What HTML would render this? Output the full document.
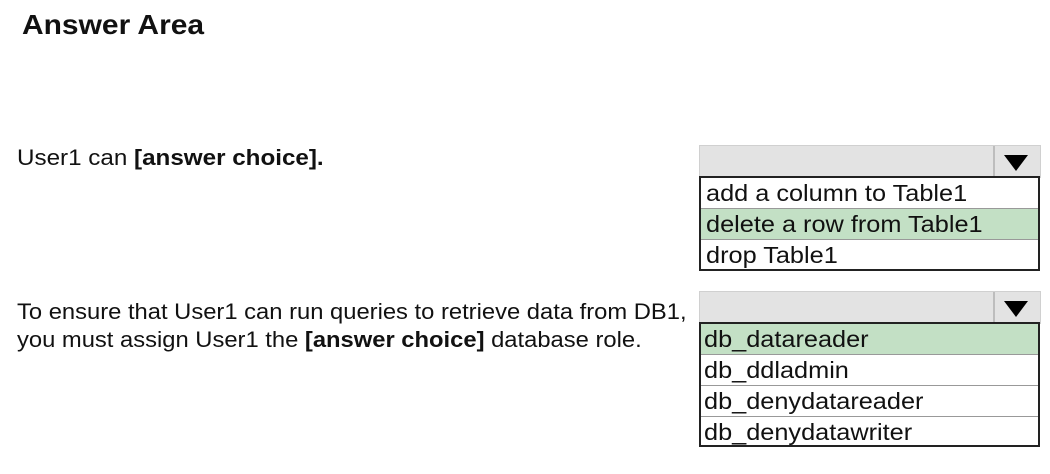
<!DOCTYPE html>
<html><head><style>
body{margin:0;width:1050px;height:474px;background:#fff;font-family:"Liberation Sans",Arial,sans-serif;position:relative;overflow:hidden;color:#111}
.a{position:absolute;white-space:nowrap;transform-origin:left top}
.bar{position:absolute;background:#e3e3e3;border:1px solid #d0d0d0;box-sizing:border-box}
.dv{position:absolute;top:0;bottom:0;width:2px;background:#bdbdbd}
.tri{position:absolute;width:0;height:0;border-left:12px solid transparent;border-right:12px solid transparent;border-top:16px solid #000}
.list{position:absolute;border:2px solid #222;box-sizing:border-box;background:#fff}
.r{height:31px;line-height:31px;font-size:23px;padding-left:5px;border-bottom:1px solid #999;box-sizing:border-box;white-space:nowrap}
.r span{display:inline-block;transform:scaleX(1.1);transform-origin:left center}
.r:last-child{border-bottom:none}
.g{background:#c3e0c5}
</style></head><body>
<div class="a" style="left:22px;top:9px;font-size:28px;font-weight:bold;transform:scaleX(1.07)">Answer Area</div>
<div class="a" style="left:17px;top:145px;font-size:22px;transform:scaleX(1.1)">User1 can <b>[answer choice].</b></div>
<div class="a" style="left:17px;top:298px;font-size:22px;line-height:28px;transform:scaleX(1.08)">To ensure that User1 can run queries to retrieve data from DB1,<br>you must assign User1 the <b>[answer choice]</b> database role.</div>

<div class="bar" style="left:699px;top:145px;width:342px;height:33px"><div class="dv" style="left:293px"></div><div class="tri" style="left:304px;top:9px"></div></div>
<div class="list" style="left:699px;top:176px;width:341px;height:95px">
<div class="r"><span>add a column to Table1</span></div><div class="r g"><span>delete a row from Table1</span></div><div class="r"><span>drop Table1</span></div></div>

<div class="bar" style="left:699px;top:291px;width:342px;height:33px"><div class="dv" style="left:293px"></div><div class="tri" style="left:304px;top:9px"></div></div>
<div class="list" style="left:699px;top:322px;width:341px;height:125px">
<div class="r g" style="padding-left:3px"><span>db_datareader</span></div><div class="r" style="padding-left:3px"><span>db_ddladmin</span></div><div class="r" style="padding-left:3px"><span>db_denydatareader</span></div><div class="r" style="padding-left:3px"><span>db_denydatawriter</span></div></div>
</body></html>
